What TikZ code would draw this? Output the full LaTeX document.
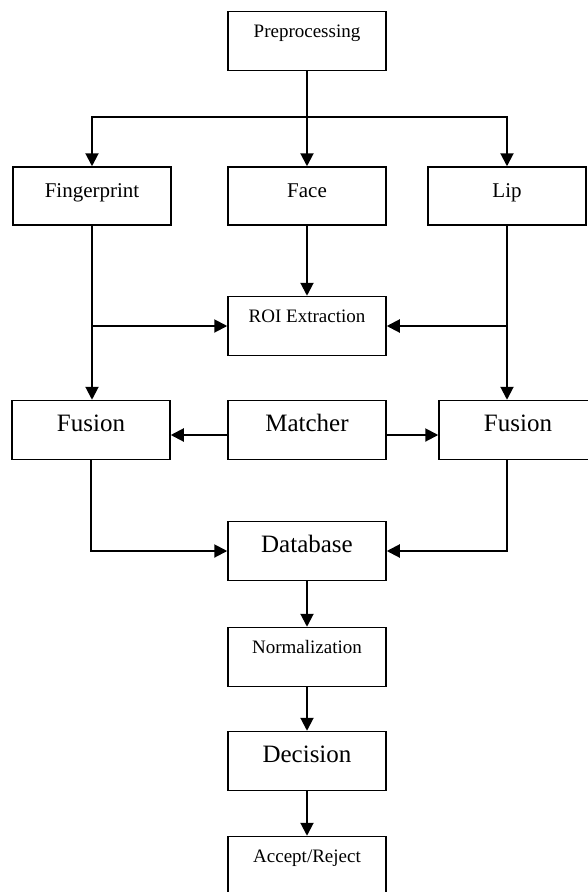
\documentclass[tikz,border=0pt]{standalone}
\usepackage{fontspec}
\setmainfont{Liberation Serif}
\usetikzlibrary{arrows.meta,positioning}

\tikzset{
  blk/.style={draw, line width=1.5pt, minimum width=158pt, inner xsep=0pt, inner ysep=0pt},
  smtxt/.style={font=\fontsize{19}{22}\selectfont, text height=26pt, text depth=33pt},
  mdtxt/.style={font=\fontsize{21}{24}\selectfont, text height=30pt, text depth=28pt},
  lgtxt/.style={font=\fontsize{25}{28}\selectfont, text height=31pt, text depth=28pt},
  arr/.style={-{Triangle[length=13pt,width=13pt]}, line width=2pt}
}

\begin{document}
\begin{tikzpicture}[x=1pt,y=-1pt]
          \useasboundingbox[fill=white] (0,0) rectangle (587,892);
          % boxes
          \node[blk,smtxt] (pre) at (307,41) {Preprocessing};
          \node[blk,mdtxt] (fing) at (92,196) {Fingerprint};
          \node[blk,mdtxt] (face) at (307,196) {Face};
          \node[blk,mdtxt] (lip) at (507,196) {Lip};
          \node[blk,smtxt] (roi) at (307,326) {ROI Extraction};
          \node[blk,lgtxt] (fusl) at (91,430) {Fusion};
          \node[blk,lgtxt] (mat) at (307,430) {Matcher};
          \node[blk,lgtxt] (fusr) at (518,430) {Fusion};
          \node[blk,lgtxt] (db) at (307,551) {Database};
          \node[blk,smtxt] (norm) at (307,657) {Normalization};
          \node[blk,lgtxt] (dec) at (307,761) {Decision};
          \node[blk,smtxt] (acc) at (307,866) {Accept/Reject};
          \coordinate (split) at (307,117);
          % connectors
          \draw[arr] (pre.south) -- (face.north);
          \draw[arr] (split) -| (fing.north);
          \draw[arr] (split) -| (lip.north);
          \draw[arr] (fing.south) -- (fing.south |- fusl.north);
          \draw[arr] (fing.south |- roi.west) -- (roi.west);
          \draw[arr] (face.south) -- (roi.north);
          \draw[arr] (lip.south) -- (lip.south |- fusr.north);
          \draw[arr] (lip.south |- roi.east) -- (roi.east);
          \draw[arr] ([yshift=-5pt]mat.west) -- ([yshift=-5pt]fusl.east);
          \draw[arr] ([yshift=-5pt]mat.east) -- ([yshift=-5pt]fusr.west);
          \draw[arr] (fusl.south) |- (db.west);
          \draw[arr] (fusr.south -| lip.south) |- (db.east);
          \draw[arr] (db.south) -- (norm.north);
          \draw[arr] (norm.south) -- (dec.north);
          \draw[arr] (dec.south) -- (acc.north);
        \end{tikzpicture}
\end{document}
